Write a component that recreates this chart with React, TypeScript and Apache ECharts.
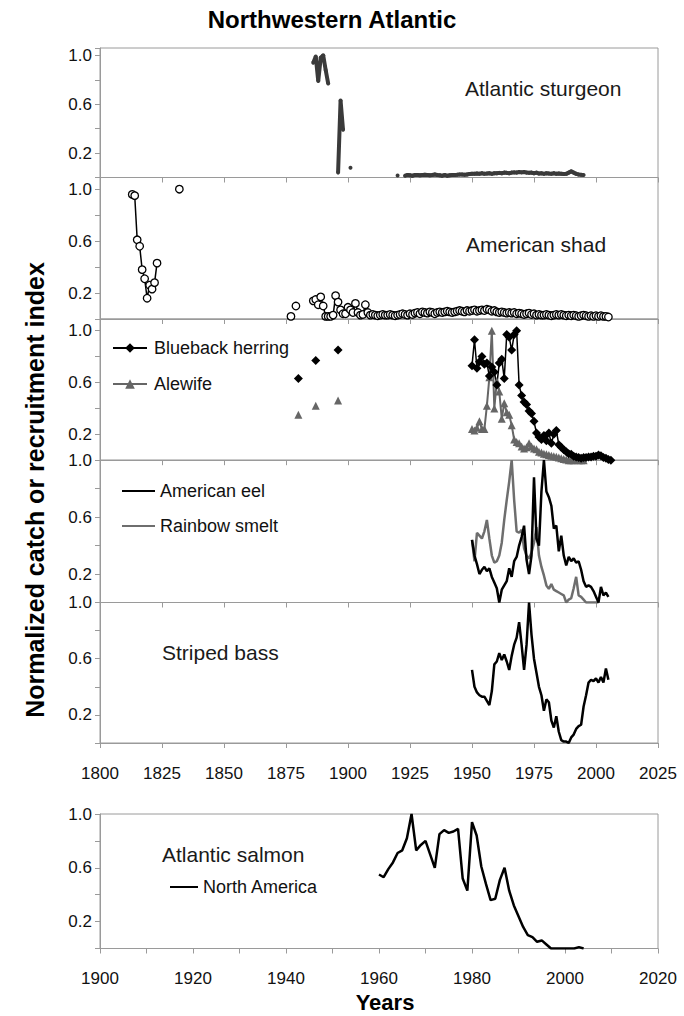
import React, { useEffect, useRef } from 'react';
import * as echarts from 'echarts';

const FONT = '"Liberation Sans", Arial, Helvetica, sans-serif';

// ---- tick labels ----
const yTickLabels = [0.2, 0.6, 1.0];
const xTopTickStep = 25;
const xSalmonTickStep = 10;
const xSalmonLabelStep = 20;

// ---- Atlantic sturgeon (segments: start year, values) ----
const sturgeon1886 = [0.94, 0.99, 0.79, 0.98, 1.0, 0.88, 0.77];
const sturgeon1896 = [0.04, 0.63, 0.39];
const sturgeon1901 = [0.08];
const sturgeon1920 = [0.016];
const sturgeon1923 = [
  0.015, 0.02, 0.018, 0.015, 0.02, 0.02, 0.018, 0.02, 0.022, 0.02,
  0.018, 0.02, 0.025, 0.02, 0.018, 0.015, 0.02, 0.015, 0.018, 0.02,
  0.02, 0.022, 0.025, 0.025, 0.022, 0.025, 0.028, 0.03, 0.03, 0.032,
  0.03, 0.035, 0.03, 0.032, 0.035, 0.03, 0.035, 0.035, 0.038, 0.035,
  0.04, 0.038, 0.035, 0.04, 0.042, 0.04, 0.045, 0.042, 0.045, 0.04,
  0.038, 0.04, 0.035, 0.04, 0.032, 0.035, 0.03, 0.035, 0.032, 0.03,
  0.035, 0.03, 0.032, 0.03, 0.028, 0.03, 0.04, 0.05, 0.04, 0.03,
  0.025, 0.022, 0.02,
];

// ---- American shad ----
const shad1813 = [0.96, 0.95, 0.61, 0.56, 0.38, 0.31, 0.16, 0.26, 0.23, 0.28, 0.43];
const shad1832 = [1.0];
const shad1877 = [0.02];
const shad1879 = [0.1];
const shad1886 = [
  0.14, 0.15, 0.11, 0.17, 0.1, 0.02, 0.02, 0.02, 0.03, 0.18,
  0.13, 0.07, 0.04, 0.04, 0.09, 0.07, 0.05, 0.12, 0.05, 0.03,
  0.035, 0.11, 0.05, 0.03, 0.035, 0.03, 0.025, 0.03, 0.035, 0.03,
  0.03, 0.035, 0.03, 0.025, 0.03, 0.035, 0.04, 0.035, 0.03, 0.04,
  0.035, 0.045, 0.05, 0.04, 0.055, 0.05, 0.045, 0.055, 0.05, 0.04,
  0.05, 0.055, 0.05, 0.055, 0.06, 0.055, 0.05, 0.055, 0.06, 0.065,
  0.06, 0.055, 0.065, 0.06, 0.065, 0.07, 0.06, 0.065, 0.07, 0.065,
  0.075, 0.07, 0.06, 0.065, 0.055, 0.05, 0.055, 0.05, 0.045, 0.05,
  0.045, 0.05, 0.04, 0.045, 0.04, 0.035, 0.04, 0.045, 0.035, 0.04,
  0.03, 0.035, 0.03, 0.03, 0.035, 0.03, 0.025, 0.03, 0.035, 0.03,
  0.035, 0.03, 0.025, 0.03, 0.025, 0.03, 0.025, 0.02, 0.025, 0.03,
  0.025, 0.02, 0.025, 0.02, 0.025, 0.02, 0.025, 0.02, 0.02, 0.015,
];

// ---- Blueback herring / Alewife ----
const earlyYears = [1880, 1887, 1896];
const herringEarly = [0.63, 0.77, 0.85];
const alewifeEarly = [0.35, 0.42, 0.46];
const herring1950 = [
  0.73, 0.93, 0.71, 0.76, 0.8, 0.74, 0.75, 0.65, 0.72, 0.68,
  0.58, 0.75, 0.78, 0.63, 0.97, 0.95, 0.85, 0.97, 1.0, 0.58,
  0.5, 0.45, 0.43, 0.38, 0.36, 0.3, 0.21, 0.18, 0.16, 0.19,
  0.15, 0.21, 0.13, 0.2, 0.23, 0.12, 0.1, 0.08, 0.065, 0.05,
  0.045, 0.03, 0.025, 0.02, 0.015, 0.02, 0.02, 0.025, 0.025, 0.03,
  0.03, 0.04, 0.035, 0.02, 0.015, 0.005, 0.0,
];
const alewife1950 = [
  0.24, 0.23, 0.25, 0.3, 0.24, 0.24, 0.42, 0.64, 1.0, 0.4,
  0.61, 0.53, 0.32, 0.44, 0.37, 0.35, 0.27, 0.16, 0.14, 0.13,
  0.105, 0.09, 0.1, 0.13, 0.105, 0.09, 0.085, 0.066, 0.06, 0.05,
  0.045, 0.04, 0.035, 0.03, 0.027, 0.02, 0.015, 0.01, 0.005, 0.0,
  0.0, 0.0, 0.005, 0.0, 0.0, 0.0,
];

// ---- American eel / Rainbow smelt ----
const eel1950 = [
  0.44, 0.33, 0.27, 0.2, 0.23, 0.25, 0.22, 0.24, 0.18, 0.14,
  0.1, 0.0, 0.09, 0.12, 0.15, 0.24, 0.18, 0.29, 0.32, 0.4,
  0.46, 0.54, 0.3, 0.2, 0.33, 0.88, 0.45, 0.4, 0.78, 1.0,
  0.78, 0.74, 0.68, 0.52, 0.54, 0.36, 0.47, 0.33, 0.26, 0.32,
  0.29, 0.31, 0.28, 0.29, 0.23, 0.15, 0.11, 0.12, 0.11, 0.08,
  0.04, 0.0, 0.11, 0.05, 0.07, 0.04,
];
const smelt1950 = [
  0.44, 0.29, 0.49, 0.47, 0.45, 0.5, 0.58, 0.45, 0.33, 0.28,
  0.29, 0.33, 0.42, 0.58, 0.72, 0.85, 1.0, 0.72, 0.5, 0.49,
  0.51, 0.38, 0.33, 0.31, 0.35, 0.42, 0.53, 0.33, 0.25, 0.19,
  0.12, 0.096, 0.13, 0.09, 0.08, 0.07, 0.06, 0.05, 0.0, 0.02,
  0.03, 0.1, 0.18, 0.05, 0.04, 0.02, 0.0, 0.0, 0.0, 0.0,
  0.0, 0.0,
];

// ---- Striped bass ----
const bass1950 = [
  0.52, 0.4, 0.36, 0.34, 0.33, 0.33, 0.3, 0.27, 0.37, 0.56,
  0.58, 0.64, 0.59, 0.63, 0.58, 0.52, 0.62, 0.7, 0.75, 0.86,
  0.7, 0.52, 0.7, 1.0, 0.77, 0.6, 0.5, 0.4, 0.34, 0.23,
  0.31, 0.29, 0.16, 0.11, 0.19, 0.08, 0.02, 0.01, 0.01, 0.0,
  0.04, 0.06, 0.1, 0.12, 0.13, 0.26, 0.34, 0.43, 0.45, 0.44,
  0.46, 0.43, 0.47, 0.43, 0.53, 0.45,
];

// ---- Atlantic salmon, North America ----
const salmon1960 = [
  0.55, 0.53, 0.59, 0.64, 0.71, 0.73, 0.82, 1.0, 0.73, 0.77,
  0.8, 0.7, 0.6, 0.85, 0.88, 0.86, 0.87, 0.89, 0.52, 0.43,
  0.94, 0.84, 0.61, 0.48, 0.36, 0.37, 0.51, 0.6, 0.43, 0.32,
  0.24, 0.16, 0.1, 0.085, 0.05, 0.06, 0.03, 0.0, 0.0, 0.0,
  0.0, 0.0, 0.0, 0.01, 0.0,
];

type Segment = [number, number[]];

function pairs(segments: Segment[]) {
  const out: any[] = [];
  segments.forEach(([start, vals], i) => {
    if (i > 0) out.push([start - 0.5, null]);
    vals.forEach((v, k) => out.push([start + k, v]));
  });
  return out;
}

function earlySegments(vals: number[]): Segment[] {
  return earlyYears.map((y, i) => [y, [vals[i]]] as Segment);
}

const GRID_LEFT = 100;
const GRID_WIDTH = 558;
const panels = [
  { top: 48, height: 129.5, max: 1.06 },
  { top: 177.5, height: 141.5, max: 1.09 },
  { top: 319, height: 141.2, max: 1.09 },
  { top: 460.2, height: 142.3, max: 1.0 },
  { top: 602.5, height: 140.5, max: 1.0 },
  { top: 814, height: 134.5, max: 1.0 },
];

const GRAY = '#9a9a9a';

function yLabel(v: number) {
  return yTickLabels.some((t) => Math.abs(t - v) < 1e-6) ? v.toFixed(1) : '';
}

const legendText = (pad: number) => ({
  fontSize: 18,
  color: '#111',
  fontFamily: FONT,
  padding: [0, 0, 0, pad],
});

const option: any = {
  animation: false,
  backgroundColor: '#fff',
  textStyle: { fontFamily: FONT },
  grid: panels.map((p) => ({
    left: GRID_LEFT,
    top: p.top,
    width: GRID_WIDTH,
    height: p.height,
    show: true,
    borderColor: GRAY,
    borderWidth: 1,
    containLabel: false,
  })),
  xAxis: panels.map((p, i) => {
    const salmon = i === 5;
    return {
      type: 'value',
      gridIndex: i,
      min: salmon ? 1900 : 1800,
      max: salmon ? 2020 : 2025,
      interval: salmon ? xSalmonTickStep : xTopTickStep,
      axisLine: { show: true, lineStyle: { color: GRAY } },
      axisTick: { show: true, length: 5, lineStyle: { color: GRAY } },
      splitLine: { show: false },
      axisLabel: {
        show: i >= 4,
        margin: salmon ? 21 : 22,
        fontSize: 17,
        color: '#111',
        fontFamily: FONT,
        formatter: (v: number) =>
          salmon ? (v % xSalmonLabelStep === 0 ? String(v) : '') : String(v),
      },
    };
  }),
  yAxis: panels.map((p, i) => ({
    type: 'value',
    gridIndex: i,
    min: 0,
    max: p.max,
    interval: 0.2,
    axisLine: { show: true, lineStyle: { color: GRAY } },
    axisTick: { show: true, length: 5, lineStyle: { color: GRAY } },
    splitLine: { show: false },
    axisLabel: {
      margin: 8,
      fontSize: 17,
      color: '#111',
      fontFamily: FONT,
      formatter: yLabel,
    },
  })),
  legend: [
    {
      data: ['Blueback herring', 'Alewife'],
      orient: 'vertical',
      left: 107,
      top: 334,
      itemWidth: 34,
      itemHeight: 12,
      itemGap: 18,
      selectedMode: false,
      textStyle: legendText(2),
    },
    {
      data: ['American eel', 'Rainbow smelt'],
      orient: 'vertical',
      left: 116,
      top: 477,
      itemWidth: 33,
      itemHeight: 12,
      itemGap: 17,
      selectedMode: false,
      itemStyle: { opacity: 0 },
      textStyle: legendText(0),
    },
    {
      data: ['North America'],
      orient: 'vertical',
      left: 164,
      top: 873,
      itemWidth: 28,
      itemHeight: 12,
      selectedMode: false,
      itemStyle: { opacity: 0 },
      textStyle: legendText(0),
    },
  ],
  series: [
    {
      name: 'Atlantic sturgeon',
      type: 'line',
      xAxisIndex: 0,
      yAxisIndex: 0,
      data: pairs([
        [1886, sturgeon1886],
        [1896, sturgeon1896],
        [1901, sturgeon1901],
        [1920, sturgeon1920],
        [1923, sturgeon1923],
      ]),
      symbol: 'circle',
      symbolSize: 4,
      showAllSymbol: true,
      lineStyle: { color: '#3a3a3a', width: 4 },
      itemStyle: { color: '#3a3a3a' },
    },
    {
      name: 'American shad',
      type: 'line',
      xAxisIndex: 1,
      yAxisIndex: 1,
      data: pairs([
        [1813, shad1813],
        [1832, shad1832],
        [1877, shad1877],
        [1879, shad1879],
        [1886, shad1886],
      ]),
      symbol: 'circle',
      symbolSize: 7.5,
      showAllSymbol: true,
      lineStyle: { color: '#000', width: 1.5 },
      itemStyle: { color: '#fff', borderColor: '#000', borderWidth: 1.3 },
    },
    {
      name: 'Alewife',
      type: 'line',
      xAxisIndex: 2,
      yAxisIndex: 2,
      data: pairs([...earlySegments(alewifeEarly), [1950, alewife1950]]),
      symbol: 'triangle',
      symbolSize: 8,
      showAllSymbol: true,
      lineStyle: { color: '#666', width: 2 },
      itemStyle: { color: '#666' },
    },
    {
      name: 'Blueback herring',
      type: 'line',
      xAxisIndex: 2,
      yAxisIndex: 2,
      data: pairs([...earlySegments(herringEarly), [1950, herring1950]]),
      symbol: 'diamond',
      symbolSize: 9,
      showAllSymbol: true,
      lineStyle: { color: '#000', width: 1.5 },
      itemStyle: { color: '#000' },
    },
    {
      name: 'Rainbow smelt',
      type: 'line',
      xAxisIndex: 3,
      yAxisIndex: 3,
      data: pairs([[1950, smelt1950]]),
      symbol: 'none',
      lineStyle: { color: '#6e6e6e', width: 2.5 },
      itemStyle: { color: '#6e6e6e' },
    },
    {
      name: 'American eel',
      type: 'line',
      xAxisIndex: 3,
      yAxisIndex: 3,
      data: pairs([[1950, eel1950]]),
      symbol: 'none',
      lineStyle: { color: '#000', width: 2.5 },
      itemStyle: { color: '#000' },
    },
    {
      name: 'Striped bass',
      type: 'line',
      xAxisIndex: 4,
      yAxisIndex: 4,
      data: pairs([[1950, bass1950]]),
      symbol: 'none',
      lineStyle: { color: '#000', width: 2.5 },
      itemStyle: { color: '#000' },
    },
    {
      name: 'North America',
      type: 'line',
      xAxisIndex: 5,
      yAxisIndex: 5,
      data: pairs([[1960, salmon1960]]),
      symbol: 'none',
      lineStyle: { color: '#000', width: 2.5 },
      itemStyle: { color: '#000' },
    },
  ],
  graphic: [
    {
      type: 'text',
      x: 332,
      y: 19,
      style: { text: 'Northwestern Atlantic', font: `bold 24px ${FONT}`, fill: '#000', align: 'center', verticalAlign: 'middle' },
    },
    {
      type: 'text',
      x: 35,
      y: 490,
      rotation: Math.PI / 2,
      style: { text: 'Normalized catch or recruitment index', font: `bold 25px ${FONT}`, fill: '#000', align: 'center', verticalAlign: 'middle' },
    },
    {
      type: 'text',
      x: 385,
      y: 1002,
      style: { text: 'Years', font: `bold 22px ${FONT}`, fill: '#000', align: 'center', verticalAlign: 'middle' },
    },
    {
      type: 'text',
      x: 465,
      y: 88,
      style: { text: 'Atlantic sturgeon', font: `21px ${FONT}`, fill: '#1a1a1a', align: 'left', verticalAlign: 'middle' },
    },
    {
      type: 'text',
      x: 466,
      y: 244,
      style: { text: 'American shad', font: `21px ${FONT}`, fill: '#1a1a1a', align: 'left', verticalAlign: 'middle' },
    },
    {
      type: 'text',
      x: 162,
      y: 652,
      style: { text: 'Striped bass', font: `21px ${FONT}`, fill: '#1a1a1a', align: 'left', verticalAlign: 'middle' },
    },
    {
      type: 'text',
      x: 162,
      y: 854,
      style: { text: 'Atlantic salmon', font: `21px ${FONT}`, fill: '#1a1a1a', align: 'left', verticalAlign: 'middle' },
    },
  ],
};

export default function App() {
  const ref = useRef<HTMLDivElement>(null);
  useEffect(() => {
    if (!ref.current) return;
    const chart = echarts.init(ref.current, null, { renderer: 'svg' });
    chart.setOption(option);
    return () => {
      chart.dispose();
    };
  }, []);
  return (
    <div
      ref={ref}
      style={{ position: 'absolute', left: 0, top: 0, width: 684, height: 1016, background: '#fff' }}
    />
  );
}
